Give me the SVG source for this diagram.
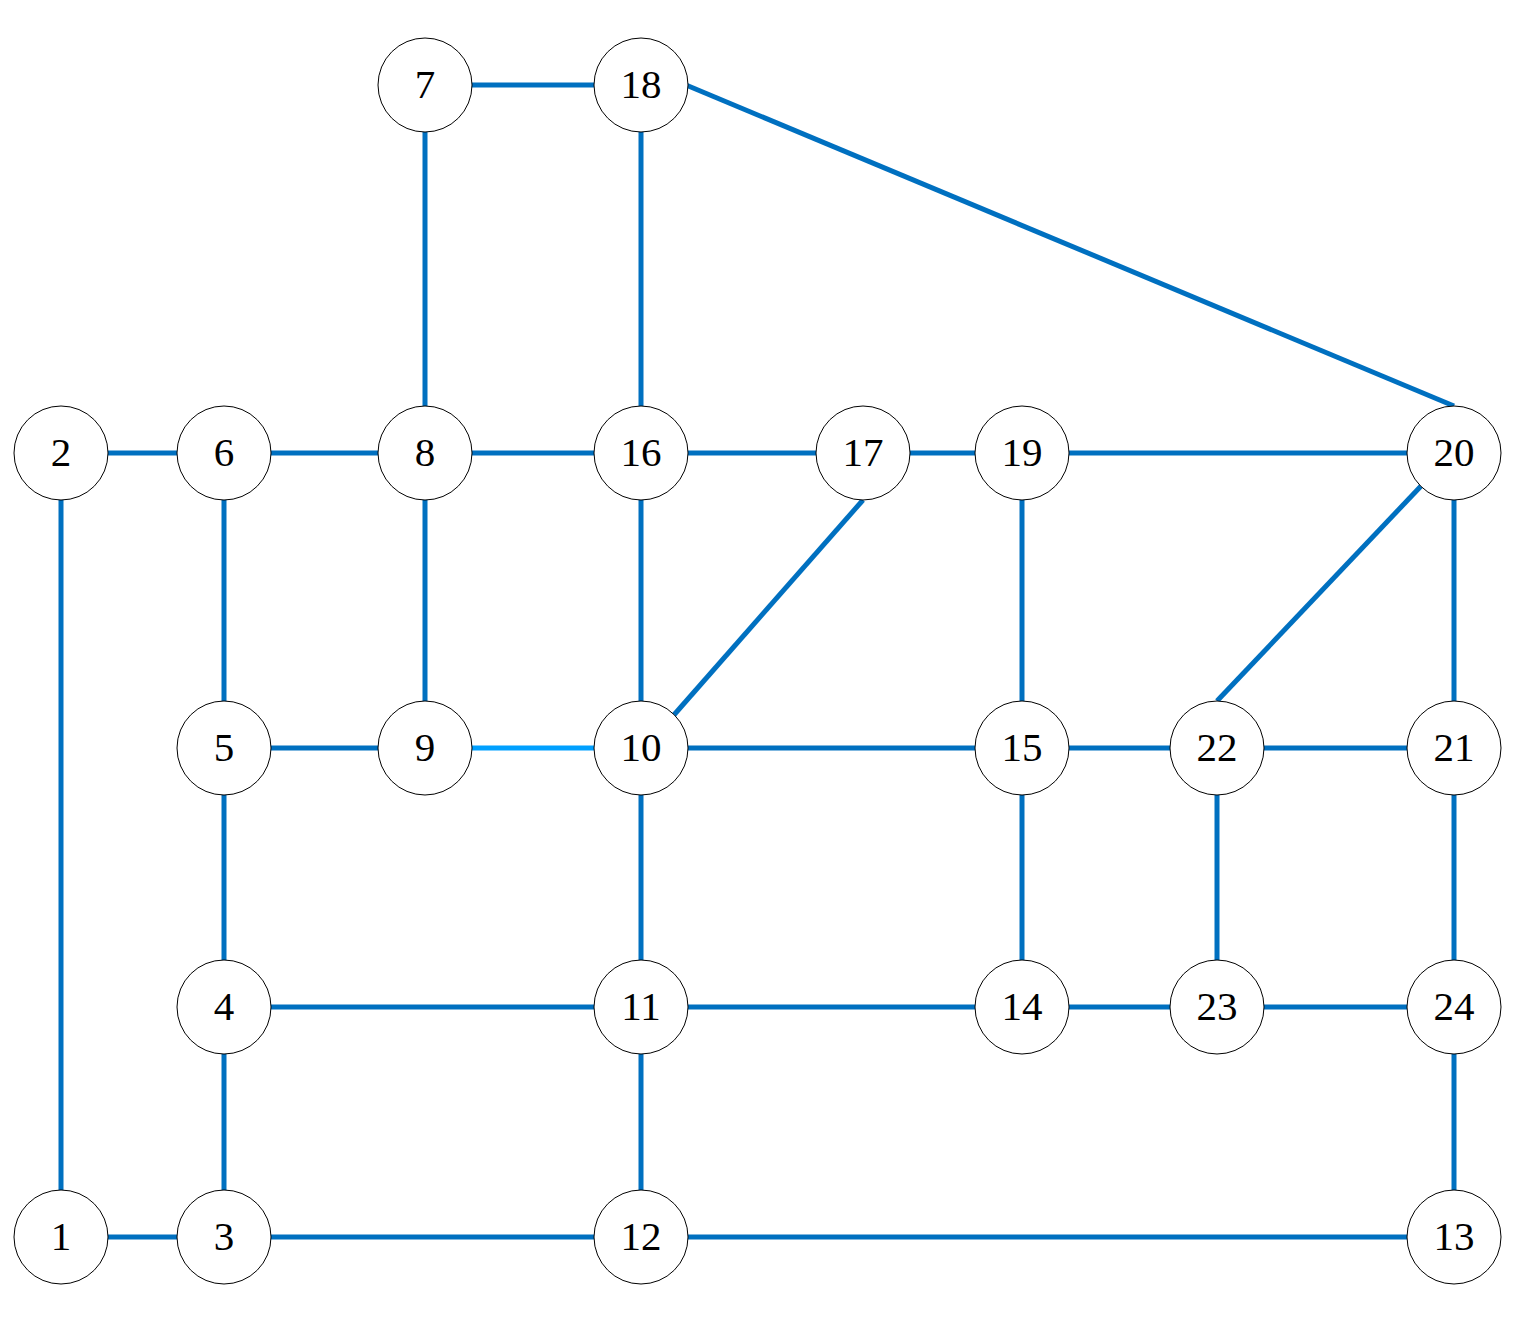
<svg xmlns="http://www.w3.org/2000/svg" width="1535" height="1317" viewBox="0 0 1535 1317">
<style>
.e{stroke:#0070C0;stroke-width:5;fill:none}
.l{stroke:#00A0FF}
.n circle{fill:#fff;stroke:#000;stroke-width:1}
.n text{font-family:"Liberation Serif","Times New Roman",serif;font-size:41px;fill:#000;text-anchor:middle}
</style>
<rect width="1535" height="1317" fill="#fff"/>
<g id="connectors">
<line class="e" x1="471" y1="85" x2="594" y2="85"/>
<line class="e" x1="425" y1="132" x2="425" y2="406"/>
<line class="e" x1="641" y1="132" x2="641" y2="406"/>
<line class="e" x1="686" y1="85" x2="1454" y2="406"/>
<line class="e" x1="108" y1="453" x2="177" y2="453"/>
<line class="e" x1="271" y1="453" x2="378" y2="453"/>
<line class="e" x1="472" y1="453" x2="594" y2="453"/>
<line class="e" x1="688" y1="453" x2="816" y2="453"/>
<line class="e" x1="910" y1="453" x2="975" y2="453"/>
<line class="e" x1="1069" y1="453" x2="1407" y2="453"/>
<line class="e" x1="61" y1="500" x2="61" y2="1190"/>
<line class="e" x1="224" y1="500" x2="224" y2="701"/>
<line class="e" x1="425" y1="500" x2="425" y2="701"/>
<line class="e" x1="641" y1="500" x2="641" y2="701"/>
<line class="e" x1="863" y1="500" x2="673" y2="716"/>
<line class="e" x1="1022" y1="500" x2="1022" y2="701"/>
<line class="e" x1="1422" y1="485" x2="1217" y2="701"/>
<line class="e" x1="1454" y1="500" x2="1454" y2="701"/>
<line class="e" x1="271" y1="748" x2="378" y2="748"/>
<line class="e l" x1="472" y1="748" x2="594" y2="748"/>
<line class="e" x1="688" y1="748" x2="975" y2="748"/>
<line class="e" x1="1069" y1="748" x2="1170" y2="748"/>
<line class="e" x1="1264" y1="748" x2="1407" y2="748"/>
<line class="e" x1="224" y1="795" x2="224" y2="960"/>
<line class="e" x1="641" y1="795" x2="641" y2="960"/>
<line class="e" x1="1022" y1="795" x2="1022" y2="960"/>
<line class="e" x1="1217" y1="795" x2="1217" y2="960"/>
<line class="e" x1="1454" y1="795" x2="1454" y2="960"/>
<line class="e" x1="271" y1="1007" x2="594" y2="1007"/>
<line class="e" x1="688" y1="1007" x2="975" y2="1007"/>
<line class="e" x1="1069" y1="1007" x2="1170" y2="1007"/>
<line class="e" x1="1264" y1="1007" x2="1407" y2="1007"/>
<line class="e" x1="224" y1="1054" x2="224" y2="1190"/>
<line class="e" x1="641" y1="1054" x2="641" y2="1190"/>
<line class="e" x1="1454" y1="1054" x2="1454" y2="1190"/>
<line class="e" x1="108" y1="1237" x2="177" y2="1237"/>
<line class="e" x1="271" y1="1237" x2="594" y2="1237"/>
<line class="e" x1="688" y1="1237" x2="1407" y2="1237"/>
</g>
<g id="n7" class="n"><circle cx="425" cy="85" r="47"/><text x="425" y="98">7</text></g>
<g id="n18" class="n"><circle cx="641" cy="85" r="47"/><text x="641" y="98">18</text></g>
<g id="n2" class="n"><circle cx="61" cy="453" r="47"/><text x="61" y="466">2</text></g>
<g id="n6" class="n"><circle cx="224" cy="453" r="47"/><text x="224" y="466">6</text></g>
<g id="n8" class="n"><circle cx="425" cy="453" r="47"/><text x="425" y="466">8</text></g>
<g id="n16" class="n"><circle cx="641" cy="453" r="47"/><text x="641" y="466">16</text></g>
<g id="n17" class="n"><circle cx="863" cy="453" r="47"/><text x="863" y="466">17</text></g>
<g id="n19" class="n"><circle cx="1022" cy="453" r="47"/><text x="1022" y="466">19</text></g>
<g id="n20" class="n"><circle cx="1454" cy="453" r="47"/><text x="1454" y="466">20</text></g>
<g id="n5" class="n"><circle cx="224" cy="748" r="47"/><text x="224" y="761">5</text></g>
<g id="n9" class="n"><circle cx="425" cy="748" r="47"/><text x="425" y="761">9</text></g>
<g id="n10" class="n"><circle cx="641" cy="748" r="47"/><text x="641" y="761">10</text></g>
<g id="n15" class="n"><circle cx="1022" cy="748" r="47"/><text x="1022" y="761">15</text></g>
<g id="n22" class="n"><circle cx="1217" cy="748" r="47"/><text x="1217" y="761">22</text></g>
<g id="n21" class="n"><circle cx="1454" cy="748" r="47"/><text x="1454" y="761">21</text></g>
<g id="n4" class="n"><circle cx="224" cy="1007" r="47"/><text x="224" y="1020">4</text></g>
<g id="n11" class="n"><circle cx="641" cy="1007" r="47"/><text x="641" y="1020">11</text></g>
<g id="n14" class="n"><circle cx="1022" cy="1007" r="47"/><text x="1022" y="1020">14</text></g>
<g id="n23" class="n"><circle cx="1217" cy="1007" r="47"/><text x="1217" y="1020">23</text></g>
<g id="n24" class="n"><circle cx="1454" cy="1007" r="47"/><text x="1454" y="1020">24</text></g>
<g id="n1" class="n"><circle cx="61" cy="1237" r="47"/><text x="61" y="1250">1</text></g>
<g id="n3" class="n"><circle cx="224" cy="1237" r="47"/><text x="224" y="1250">3</text></g>
<g id="n12" class="n"><circle cx="641" cy="1237" r="47"/><text x="641" y="1250">12</text></g>
<g id="n13" class="n"><circle cx="1454" cy="1237" r="47"/><text x="1454" y="1250">13</text></g>
</svg>
